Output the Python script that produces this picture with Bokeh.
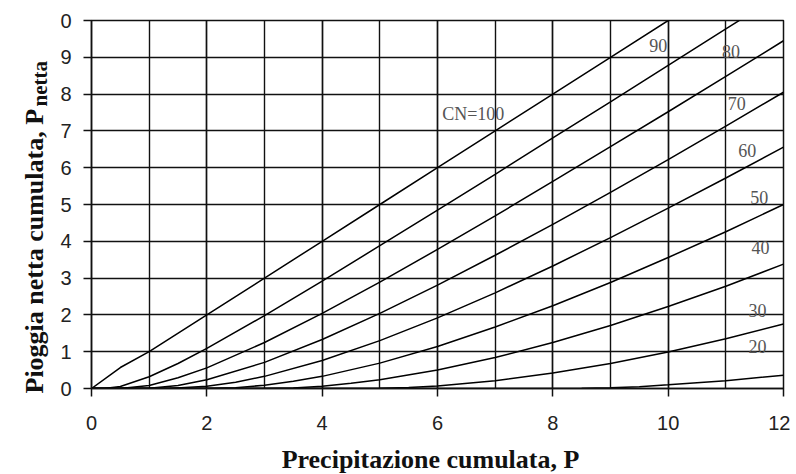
import numpy as np
from bokeh.plotting import figure
from bokeh.layouts import row, column
from bokeh.models import Range1d, SingleIntervalTicker, ColumnDataSource
from bokeh.embed import file_html
from bokeh.resources import INLINE
from bokeh.core.properties import value

# ---- data: cumulative rainfall P vs net rainfall Pnetta ----
P_100 = [0, 0.5, 1, 2, 3, 4, 5, 6, 7, 8, 9, 10, 11, 12]
Q_100 = [0, 0.57, 1, 2, 3, 4, 5, 6, 7, 8, 9, 10, 11, 12]

P_90 = [0, 0.22, 0.5, 1, 1.5, 2, 3, 4, 5, 6, 7, 8, 9, 10, 11, 12]
Q_90 = [0, 0, 0.056, 0.32, 0.68, 1.09, 1.98, 2.92, 3.88, 4.85, 5.82, 6.81, 7.79, 8.78, 9.77, 10.76]

P_80 = [0, 0.5, 1, 1.5, 2, 3, 4, 5, 6, 7, 8, 9, 10, 11, 12]
Q_80 = [0, 0, 0.08, 0.29, 0.56, 1.25, 2.04, 2.89, 3.78, 4.69, 5.63, 6.57, 7.52, 8.48, 9.45]

P_70 = [0, 0.86, 1, 1.5, 2, 3, 4, 5, 6, 7, 8, 9, 10, 11, 12]
Q_70 = [0, 0, 0.005, 0.08, 0.24, 0.71, 1.33, 2.04, 2.81, 3.62, 4.46, 5.33, 6.22, 7.13, 8.05]

P_60 = [0, 1.33, 2, 2.5, 3, 4, 5, 6, 7, 8, 9, 10, 11, 12]
Q_60 = [0, 0, 0.06, 0.17, 0.33, 0.76, 1.30, 1.92, 2.60, 3.33, 4.10, 4.90, 5.72, 6.56]

P_50 = [0, 2, 2.5, 3, 3.5, 4, 5, 6, 7, 8, 9, 10, 11, 12]
Q_50 = [0, 0, 0.02, 0.09, 0.20, 0.33, 0.69, 1.14, 1.67, 2.25, 2.88, 3.56, 4.26, 5.00]

P_40 = [0, 3, 3.5, 4, 4.5, 5, 6, 7, 8, 9, 10, 11, 12]
Q_40 = [0, 0, 0.016, 0.06, 0.14, 0.24, 0.50, 0.84, 1.25, 1.71, 2.23, 2.78, 3.38]

P_30 = [0, 4.67, 5, 5.5, 6, 7, 8, 9, 10, 11, 12]
Q_30 = [0, 0, 0.005, 0.03, 0.07, 0.21, 0.42, 0.68, 0.99, 1.35, 1.75]

P_20 = [0, 8, 8.5, 9, 9.5, 10, 11, 12]
Q_20 = [0, 0, 0.006, 0.02, 0.05, 0.10, 0.21, 0.36]

series = [(P_100, Q_100), (P_90, Q_90), (P_80, Q_80), (P_70, Q_70), (P_60, Q_60),
          (P_50, Q_50), (P_40, Q_40), (P_30, Q_30), (P_20, Q_20)]

curve_labels = ["CN=100", "90", "80", "70", "60", "50", "40", "30", "20"]
label_x = [6.62, 9.83, 11.09, 11.19, 11.37, 11.58, 11.60, 11.55, 11.55]
label_y = [7.47, 9.33, 9.16, 7.74, 6.47, 5.20, 3.83, 2.12, 1.15]

y_tick_override = {10: "0"}

x_title = "Precipitazione cumulata, P"
y_title = "Pioggia netta cumulata, P"
y_title_sub = "netta"

H = 444       # height of the chart row
LEFT_W = 50   # width of the strip holding the y title
BOT_H = 30    # height of the strip holding the x title
TOTAL_W = 790

# ---- main chart ----
p = figure(width=TOTAL_W - LEFT_W, height=H, output_backend="svg", toolbar_location=None,
           title=None, x_range=Range1d(0, 12), y_range=Range1d(0, 10), frame_align=False,
           min_border_left=41, min_border_right=7, min_border_top=20, min_border_bottom=56)
p.background_fill_color = "white"
p.border_fill_color = "white"
p.outline_line_color = "#111111"
p.outline_line_width = 1.5

p.xaxis.ticker = SingleIntervalTicker(interval=2, num_minor_ticks=2)
p.yaxis.ticker = SingleIntervalTicker(interval=1, num_minor_ticks=0)
p.yaxis.major_label_overrides = y_tick_override

for ax in (p.xaxis, p.yaxis):
    ax.axis_line_color = "#111111"
    ax.axis_line_width = 1.5
    ax.major_tick_line_color = "#111111"
    ax.major_tick_line_width = 1.5
    ax.major_tick_out = 8
    ax.major_tick_in = 0
    ax.minor_tick_out = 0
    ax.minor_tick_in = 0
    ax.major_label_text_font = "Liberation Sans"
    ax.major_label_text_font_size = "20px"
    ax.major_label_text_color = "#222222"
p.xaxis.major_label_standoff = 19
p.yaxis.major_label_standoff = 12

p.xgrid.grid_line_color = "#111111"
p.xgrid.grid_line_width = 1.4
p.xgrid.minor_grid_line_color = "#111111"
p.xgrid.minor_grid_line_width = 1.4
p.ygrid.grid_line_color = "#111111"
p.ygrid.grid_line_width = 1.4

for xs, ys in series:
    p.line(xs, ys, line_color="black", line_width=1.5)

src = ColumnDataSource(dict(x=label_x, y=label_y, t=curve_labels))
p.text(x="x", y="y", text="t", source=src, text_font=value("Liberation Serif"),
       text_font_size="18px", text_color="#555555", text_align="center",
       text_baseline="middle")


def strip(w, h):
    f = figure(width=w, height=h, output_backend="svg", toolbar_location=None,
               title=None, x_range=Range1d(0, w), y_range=Range1d(0, h),
               frame_align=False, min_border=0, x_axis_type=None, y_axis_type=None)
    f.outline_line_color = None
    f.xgrid.visible = False
    f.ygrid.visible = False
    return f


# ---- strip carrying the rotated y-axis title ----
t = strip(LEFT_W, H)
t.text(x=[34], y=[H - 393], text=[y_title], angle=np.pi / 2,
       text_font=value("Liberation Serif"), text_font_style="bold",
       text_font_size="26px", text_color="#111111",
       text_align="left", text_baseline="alphabetic")
t.text(x=[39], y=[H - 106], text=[y_title_sub], angle=np.pi / 2,
       text_font=value("Liberation Serif"), text_font_style="bold",
       text_font_size="21px", text_color="#111111",
       text_align="left", text_baseline="alphabetic")

# ---- strip carrying the x-axis title ----
b = strip(TOTAL_W, BOT_H)
b.text(x=[430], y=[15], text=[x_title],
       text_font=value("Liberation Serif"), text_font_style="bold",
       text_font_size="26px", text_color="#111111",
       text_align="center", text_baseline="alphabetic")

layout = column(row(t, p, spacing=0), b, spacing=0)
open("out.html", "w").write(file_html(layout, INLINE))
